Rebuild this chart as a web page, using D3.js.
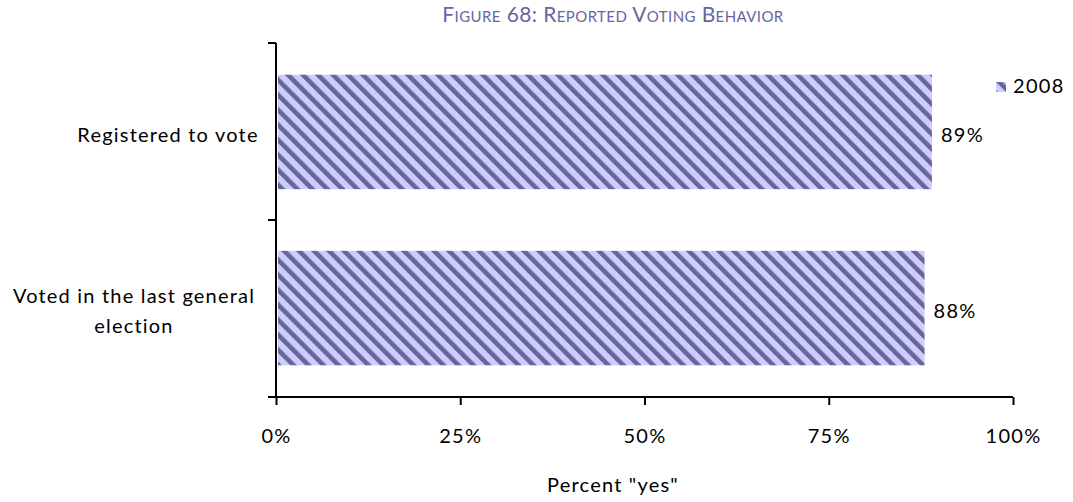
<!DOCTYPE html>
<html>
<head>
<meta charset="utf-8">
<script src="https://cdn.jsdelivr.net/npm/d3@7"></script>
<style>
  body { margin: 0; background: #fff; }
  svg text { font-family: Lato, "Open Sans", sans-serif; fill: #000; }
</style>
</head>
<body>
<svg id="chart" width="1073" height="502"></svg>
<script>
const categories = ["Registered to vote", "Voted in the last general election"];
const values2008 = [89, 88];
const seriesName = "2008";
const tickValues = [0, 25, 50, 75, 100];
const titleText = "Figure 68: Reported Voting Behavior";
const axisTitle = 'Percent "yes"';

const svg = d3.select("#chart");
const margin = { left: 276, right: 60, top: 43, bottom: 105 };
const W = 1073, H = 502;

const x = d3.scaleLinear().domain([0, 100]).range([margin.left, 1013]);
const y = d3.scaleBand().domain(categories).range([margin.top, H - margin.bottom]).paddingInner(0.35).paddingOuter(0.18);

// diagonal hatch fill (stripes running top-left to bottom-right)
const defs = svg.append("defs");
const P = 10.6;
const pat = defs.append("pattern")
  .attr("id", "hatch").attr("patternUnits", "userSpaceOnUse")
  .attr("width", P).attr("height", P)
  .attr("patternTransform", "rotate(-45)");
pat.append("rect").attr("width", P).attr("height", P).attr("fill", "#ccccff");
pat.append("rect").attr("x", 0).attr("width", 4.6).attr("height", P).attr("fill", "#666699");

// title
svg.append("text")
  .attr("x", 613).attr("y", 22).attr("text-anchor", "middle")
  .style("font-variant", "small-caps").style("font-size", "21px")
  .style("letter-spacing", "0.4px")
  .style("fill", "#6666a0").text(titleText);

// bars
svg.selectAll("rect.bar").data(categories).join("rect")
  .attr("class", "bar")
  .attr("x", x(0) + 2)
  .attr("y", d => y(d))
  .attr("width", (d, i) => x(values2008[i]) - x(0) - 2)
  .attr("height", y.bandwidth())
  .attr("fill", "url(#hatch)");

// value labels
svg.selectAll("text.val").data(categories).join("text")
  .attr("class", "val")
  .attr("x", (d, i) => x(values2008[i]) + 9)
  .attr("y", d => y(d) + y.bandwidth() / 2 + 10)
  .style("font-size", "20px").style("letter-spacing", "1.3px")
  .text((d, i) => values2008[i] + "%");

// y axis
const yAxisG = svg.append("g");
yAxisG.append("line").attr("x1", x(0)).attr("x2", x(0))
  .attr("y1", margin.top).attr("y2", H - margin.bottom)
  .attr("stroke", "#000").attr("stroke-width", 2);
const yEdges = [margin.top, (margin.top + H - margin.bottom) / 2, H - margin.bottom];
yAxisG.selectAll("line.tk").data(yEdges).join("line")
  .attr("class", "tk")
  .attr("x1", x(0) - 8).attr("x2", x(0))
  .attr("y1", d => d).attr("y2", d => d)
  .attr("stroke", "#000").attr("stroke-width", 2);

// category labels
const catLines = [["Registered to vote"], ["Voted in the last general", "election"]];
categories.forEach((c, i) => {
  const lines = catLines[i];
  const cy = y(c) + y.bandwidth() / 2;
  const t = svg.append("text").attr("text-anchor", "middle")
    .style("font-size", "20px").style("letter-spacing", "1.2px");
  lines.forEach((ln, j) => {
    t.append("tspan").attr("x", i === 0 ? 168 : 134)
      .attr("y", cy + 10 + (j - (lines.length - 1) / 2) * 30)
      .text(ln);
  });
});

// x axis
const xAxis = d3.axisBottom(x).tickValues(tickValues).tickFormat(d => d + "%").tickSize(8).tickPadding(24);
const xg = svg.append("g").attr("transform", `translate(0,${H - margin.bottom})`).call(xAxis);
xg.select(".domain").attr("stroke", "#000").attr("stroke-width", 2).attr("d", `M${x(0)},0H${x(100)}`);
xg.selectAll(".tick line").attr("stroke", "#000").attr("stroke-width", 2);
xg.selectAll(".tick text").style("font-size", "20px").style("letter-spacing", "1.3px")
  .style("font-family", "Lato, sans-serif").attr("fill", "#000");

// axis title
svg.append("text").attr("x", 613).attr("y", 492).attr("text-anchor", "middle")
  .style("font-size", "20px").style("letter-spacing", "1.2px").text(axisTitle);

// legend
const lg = svg.append("g").attr("transform", "translate(996,82)");
lg.append("rect").attr("width", 10).attr("height", 10).attr("fill", "url(#hatch)");
lg.append("text").attr("x", 17).attr("y", 11).style("font-size", "20px")
  .style("letter-spacing", "1.3px").text(seriesName);
</script>
</body>
</html>
